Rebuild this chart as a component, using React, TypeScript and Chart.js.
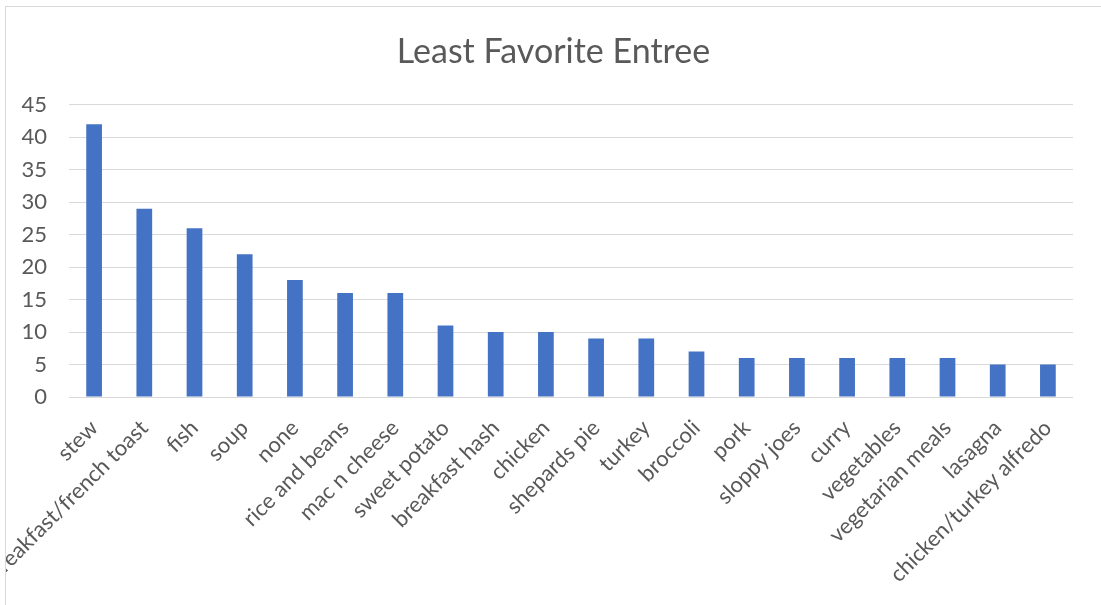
import React, { useEffect, useRef } from "react";
import { Chart, registerables } from "chart.js";

Chart.register(...registerables);

const chartTitle = "Least Favorite Entree";
const categories = [
  "stew",
  "breakfast/french toast",
  "fish",
  "soup",
  "none",
  "rice and beans",
  "mac n cheese",
  "sweet potato",
  "breakfast hash",
  "chicken",
  "shepards pie",
  "turkey",
  "broccoli",
  "pork",
  "sloppy joes",
  "curry",
  "vegetables",
  "vegetarian meals",
  "lasagna",
  "chicken/turkey alfredo",
];
const counts = [42, 29, 26, 22, 18, 16, 16, 11, 10, 10, 9, 9, 7, 6, 6, 6, 6, 6, 5, 5];
const yMin = 0;
const yMax = 45;
const yStep = 5;

const FONT = "Lato, 'Open Sans', sans-serif";
const TEXT = "#595959";
const GRID = "#D9D9D9";
const BAR = "#4472C4";

export default function App() {
  const ref = useRef<HTMLCanvasElement | null>(null);

  useEffect(() => {
    if (!ref.current) return;
    const chart = new Chart(ref.current, {
      type: "bar",
      data: {
        labels: categories,
        datasets: [
          {
            data: counts,
            backgroundColor: BAR,
            borderWidth: 0,
            barPercentage: 0.313,
            categoryPercentage: 1,
          },
        ],
      },
      options: {
        responsive: false,
        animation: false,
        devicePixelRatio: 1,
        layout: { padding: 0 },
        plugins: {
          legend: { display: false },
          tooltip: { enabled: false },
          title: {
            display: true,
            text: chartTitle,
            color: TEXT,
            font: { family: FONT, size: 34, weight: "normal" },
            padding: { top: 32, bottom: 32 },
          },
        },
        scales: {
          x: {
            grid: { display: false },
            border: { display: false },
            ticks: {
              autoSkip: false,
              maxRotation: 45,
              minRotation: 45,
              color: TEXT,
              font: { family: FONT, size: 22 },
              padding: 10,
            },
            afterFit: (scale: any) => {
              scale.height = 208;
            },
          },
          y: {
            min: yMin,
            max: yMax,
            grid: { color: GRID, lineWidth: 1, drawTicks: false },
            border: { display: false },
            ticks: {
              stepSize: yStep,
              color: TEXT,
              font: { family: FONT, size: 22 },
              padding: 22,
            },
            afterFit: (scale: any) => {
              scale.width = 63;
            },
          },
          rightSpace: {
            position: "right",
            display: true,
            grid: { display: false, drawTicks: false },
            border: { display: false },
            ticks: { display: false },
            afterFit: (scale: any) => {
              scale.width = 28;
            },
          },
        },
      },
    });
    return () => chart.destroy();
  }, []);

  return (
    <div
      style={{
        position: "fixed",
        left: 0,
        top: 0,
        width: 1101,
        height: 605,
        overflow: "hidden",
        background: "#fff",
      }}
    >
      <div
        style={{
          position: "absolute",
          left: 5,
          top: 6,
          width: 1200,
          height: 700,
          border: "1px solid #D9D9D9",
          boxSizing: "border-box",
        }}
      />
      <canvas
        ref={ref}
        width={1095}
        height={605}
        style={{ position: "absolute", left: 6, top: 0, width: 1095, height: 605 }}
      />
    </div>
  );
}
